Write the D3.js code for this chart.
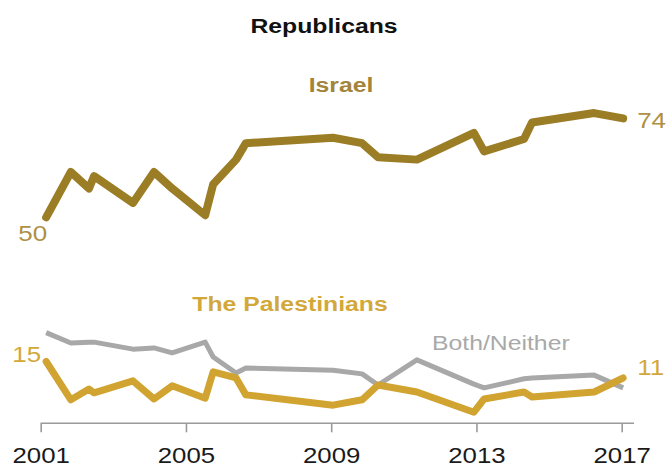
<!DOCTYPE html>
<html>
<head>
<meta charset="utf-8">
<script src="https://cdn.jsdelivr.net/npm/d3@7"></script>
<style>
  body { margin: 0; background: #fff; }
  svg { display: block; font-family: "Liberation Sans", Arial, sans-serif; }
</style>
</head>
<body>
<div id="chart"></div>
<script>
var svgWidth = 669;
var svgHeight = 468;

// survey dates (fractional years) shared by all three series
var surveyYears = [2001.15, 2001.83, 2002.33, 2002.47, 2003.54, 2004.12, 2004.62, 2005.53, 2005.75,
  2006.38, 2006.65, 2009.05, 2009.85, 2010.29, 2011.36, 2012.93, 2013.21, 2014.31, 2014.53,
  2016.24, 2017.04];

var israelValues = [50, 61, 57, 60, 53.5, 61, 57, 50.5, 58, 64, 68, 69.3, 68, 64.6, 64, 70.5, 66,
  69, 73, 75.3, 74];
var palestiniansValues = [15, 5.7, 8.3, 7.4, 10.3, 5.9, 9.1, 6.1, 12.5, 11, 6.9, 4.4, 5.7, 9.3, 7.6,
  2.7, 5.9, 7.6, 6.4, 7.6, 11];
var bothNeitherValues = [22, 19.5, 19.7, 19.7, 18, 18.3, 17.1, 19.7, 16.1, 12.2, 13.4, 12.9, 12,
  9.3, 15.4, 9.5, 8.6, 10.8, 11, 11.7, 8.6];

var tickYears = [2001, 2005, 2009, 2013, 2017];

var svg = d3.select("#chart")
  .append("svg")
  .attr("width", svgWidth)
  .attr("height", svgHeight);

var x = d3.scaleLinear().domain([2001, 2017]).range([40.7, 621.7]);
var y = d3.scaleLinear().domain([0, 80]).range([423.3, 93.7]);

// x axis
var xAxis = svg.append("g")
  .attr("transform", `translate(0, ${y(0)})`)
  .call(d3.axisBottom(x)
    .tickValues(tickYears)
    .tickFormat(d3.format("d"))
    .tickSize(9)
    .tickSizeOuter(0));

xAxis.select(".domain")
  .attr("d", `M${x(2001)},0H${x(2017.34)}`)
  .attr("stroke", "#9a9a9a")
  .attr("stroke-width", 1.6);
xAxis.selectAll(".tick line")
  .attr("stroke", "#9a9a9a")
  .attr("stroke-width", 1.6);
xAxis.selectAll(".tick text")
  .attr("y", 0)
  .attr("dy", 0)
  .attr("transform", "translate(0, 40) scale(1.2, 1)")
  .attr("font-size", "21.5px")
  .attr("fill", "#1a1a1a")
  .attr("font-family", "'Liberation Sans', Arial, sans-serif");

var line = d3.line()
  .x((d, i) => x(surveyYears[i]))
  .y(d => y(d));

// lines, back to front
svg.append("path")
  .datum(bothNeitherValues)
  .attr("fill", "none")
  .attr("stroke", "#a8a8a8")
  .attr("stroke-width", 5)
  .attr("stroke-linejoin", "round")
  .attr("d", line);

svg.append("path")
  .datum(palestiniansValues)
  .attr("fill", "none")
  .attr("stroke", "#d1a431")
  .attr("stroke-width", 7)
  .attr("stroke-linejoin", "round")
  .attr("stroke-linecap", "round")
  .attr("d", line);

svg.append("path")
  .datum(israelValues)
  .attr("fill", "none")
  .attr("stroke", "#9b7d25")
  .attr("stroke-width", 8)
  .attr("stroke-linejoin", "round")
  .attr("stroke-linecap", "round")
  .attr("d", line);

// text helper: the reference type is a little wider than the font
function label(px, py, txt, size, weight, color, anchor) {
  svg.append("text")
    .attr("transform", `translate(${px}, ${py}) scale(1.18, 1)`)
    .attr("text-anchor", anchor)
    .attr("font-size", size + "px")
    .attr("font-weight", weight)
    .attr("fill", color)
    .text(txt);
}

label(324, 33, "Republicans", 21, "bold", "#111", "middle");
label(341, 92, "Israel", 21, "bold", "#a3843a", "middle");
label(290, 311, "The Palestinians", 21, "bold", "#d3a83a", "middle");
label(432, 350, "Both/Neither", 21, "normal", "#a9a9a9", "start");

// start / end values
var n = surveyYears.length - 1;
label(x(surveyYears[0]) + 1, y(israelValues[0]) + 24, israelValues[0], 22, "normal", "#ad9044", "end");
label(x(surveyYears[n]) + 14, y(israelValues[n]) + 10, israelValues[n], 22, "normal", "#ad9044", "start");
label(x(surveyYears[0]) - 5, y(palestiniansValues[0]) + 0, palestiniansValues[0], 22, "normal", "#d3a83a", "end");
label(x(surveyYears[n]) + 14, y(palestiniansValues[n]) - 3, palestiniansValues[n], 22, "normal", "#d3a83a", "start");
</script>
</body>
</html>
